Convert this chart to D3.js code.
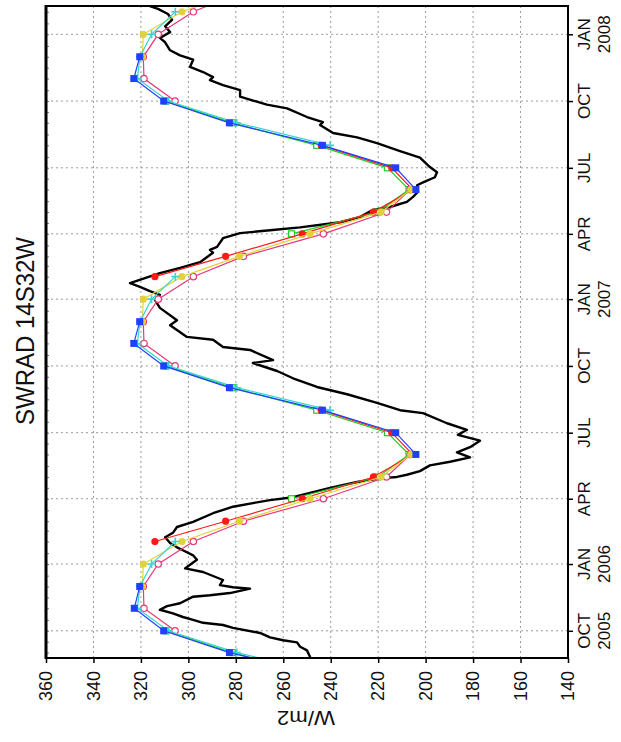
<!DOCTYPE html>
<html>
<head>
<meta charset="utf-8">
<script src="https://cdn.jsdelivr.net/npm/d3@7"></script>
<style>
  html, body { margin: 0; padding: 0; background: #fff; }
  svg { display: block; }
</style>
</head>
<body>
<svg id="chart" width="621" height="742"></svg>
<script>
// Shortwave radiation at 14S 32W: daily buoy record plus monthly climatologies.
// The figure is laid out in portrait: time runs bottom-to-top, W/m2 runs right-to-left.

const valueTicks = [360, 340, 320, 300, 280, 260, 240, 220, 200, 180, 160, 140];
const timeTicks = ["2005-10-01", "2006-01-01", "2006-04-01", "2006-07-01", "2006-10-01",
                   "2007-01-01", "2007-04-01", "2007-07-01", "2007-10-01", "2008-01-01"];
const monthLabels = ["OCT", "JAN", "APR", "JUL", "OCT", "JAN", "APR", "JUL", "OCT", "JAN"];
const yearLabels = ["2005", "2006", "", "", "", "2007", "", "", "", "2008"];

// Daily buoy SWRAD (W/m2)
const buoyDates = [
  "2005-08-24","2005-08-26","2005-09-04","2005-09-09","2005-09-15","2005-09-18","2005-09-22","2005-09-28",
  "2005-10-05","2005-10-09","2005-10-12","2005-10-16","2005-10-20","2005-10-25","2005-10-30","2005-11-04",
  "2005-11-08","2005-11-17","2005-11-19","2005-11-22","2005-11-28","2005-11-30","2005-12-03","2005-12-10",
  "2005-12-21","2005-12-26","2005-12-31","2006-01-07","2006-01-13","2006-01-20","2006-01-24","2006-01-30",
  "2006-02-07","2006-02-13","2006-02-21","2006-02-28","2006-03-12","2006-03-21","2006-03-26","2006-03-30",
  "2006-04-03","2006-04-16","2006-04-24","2006-04-29","2006-05-01","2006-05-04","2006-05-09","2006-05-17",
  "2006-05-22","2006-05-28","2006-06-04","2006-06-11","2006-06-20","2006-06-28","2006-07-05","2006-07-14",
  "2006-07-28","2006-08-01","2006-08-11","2006-08-23","2006-09-02","2006-09-14","2006-09-24","2006-10-05",
  "2006-10-09","2006-10-23","2006-10-27","2006-11-06","2006-11-10","2006-11-26","2006-12-03","2006-12-20",
  "2006-12-31","2007-01-07","2007-01-12","2007-01-18","2007-01-23","2007-01-30","2007-02-06","2007-02-13",
  "2007-02-21","2007-03-06","2007-03-10","2007-03-14","2007-03-26","2007-04-02","2007-04-06","2007-04-10",
  "2007-04-17","2007-04-24","2007-05-04","2007-05-08","2007-05-15","2007-05-22","2007-05-29","2007-06-07",
  "2007-06-11","2007-06-18","2007-06-25","2007-07-02","2007-07-15","2007-07-24","2007-08-04","2007-08-12",
  "2007-08-18","2007-08-29","2007-09-02","2007-09-09","2007-09-21","2007-09-26","2007-10-07","2007-10-16",
  "2007-10-23","2007-10-30","2007-11-03","2007-11-10","2007-11-17","2007-11-27","2007-12-03","2007-12-10",
  "2007-12-21","2007-12-27","2008-01-04","2008-01-12","2008-01-21","2008-01-29","2008-02-05","2008-02-09",
  "2008-02-12"
];
const buoyValues = [
  249.0, 248.7, 250.0, 252.9, 254.2, 260.1, 265.6, 269.8,
  281.2, 285.4, 293.8, 298.0, 302.3, 306.5, 312.0, 309.0,
  303.5, 298.0, 290.9, 282.5, 274.0, 281.2, 286.7, 285.4,
  293.8, 301.4, 299.3, 296.4, 298.0, 302.3, 304.8, 307.7,
  309.8, 306.5, 304.8, 298.0, 289.6, 281.2, 272.8, 265.6,
  255.9, 240.3, 228.9, 219.2, 212.1, 207.9, 202.4, 198.2,
  189.7, 181.3, 186.8, 181.3, 177.1, 186.4, 182.6, 191.0,
  201.1, 210.8, 220.5, 233.1, 245.8, 255.9, 262.6, 272.8,
  264.3, 274.0, 285.4, 289.6, 300.6, 307.7, 304.8, 312.0,
  314.1, 312.0, 316.2, 320.4, 324.6, 318.3, 312.0, 303.5,
  295.1, 289.6, 290.9, 287.9, 285.4, 278.2, 265.6, 252.9,
  236.1, 227.7, 222.2, 215.0, 207.9, 205.3, 203.2, 203.6,
  201.1, 196.1, 195.2, 198.2, 202.4, 210.8, 220.5, 228.9,
  239.0, 244.5, 243.3, 250.0, 258.4, 266.9, 278.2, 278.2,
  285.4, 290.9, 289.6, 293.8, 299.3, 298.0, 303.5, 307.7,
  309.8, 312.0, 307.7, 309.8, 306.9, 308.6, 312.8, 316.2,
  318.0
];

// Monthly climatology curves, one value per month start (null = not available)
const monthStarts = [
  "2005-08-01","2005-09-01","2005-10-01","2005-11-01","2005-12-01",
  "2006-01-01","2006-02-01","2006-03-01","2006-04-01","2006-05-01","2006-06-01",
  "2006-07-01","2006-08-01","2006-09-01","2006-10-01","2006-11-01","2006-12-01",
  "2007-01-01","2007-02-01","2007-03-01","2007-04-01","2007-05-01","2007-06-01",
  "2007-07-01","2007-08-01","2007-09-01","2007-10-01","2007-11-01","2007-12-01",
  "2008-01-01","2008-02-01","2008-03-01"
];
const greenValues = [245.9, 281.5, 309.5, null, null,
  null, null, null, 256.5, 220.2, 207.0, 216.1, 245.9, 281.5, 309.5, null, null,
  null, null, null, 256.5, 220.2, 207.0, 216.1, 245.9, 281.5, 309.5, null, null,
  null, null, null];
const redValues = [null, null, null, null, null,
  null, 314.1, 284.3, 252.0, 222.0, 205.5, 214.3, 244.0, null, null, null, null,
  null, 314.1, 284.3, 252.0, 222.0, 205.5, 214.3, 244.0, null, null, null, null,
  null, null, null];
const pinkValues = [null, null, 305.6, 318.7, 319.0,
  312.7, 297.9, 276.8, 243.1, 216.5, 206.5, null, null, null, 305.6, 318.7, 319.0,
  312.7, 297.9, 276.8, 243.1, 216.5, 206.5, null, null, null, 305.6, 318.7, 319.0,
  312.7, 297.9, 276.8];
const yellowValues = [null, null, null, null, 319.4,
  319.0, 302.7, 278.5, 248.7, 218.8, 206.2, null, null, null, null, null, 319.4,
  319.0, 302.7, 278.5, 248.7, 218.8, 206.2, null, null, null, null, null, 319.4,
  319.0, 302.7, 278.5];
const cyanValues = [240.3, 279.6, 308.5, 321.5, 320.4,
  315.5, 305.5, null, null, null, null, null, 240.3, 279.6, 308.5, 321.5, 320.4,
  315.5, 305.5, null, null, null, null, null, 240.3, 279.6, 308.5, 321.5, 320.4,
  315.5, 305.5, null];
const blueValues = [243.5, 282.7, 310.4, 322.8, 320.5,
  null, null, null, null, null, 204.1, 212.6, 243.5, 282.7, 310.4, 323.0, 320.5,
  null, null, null, null, null, 204.1, 212.6, 243.5, 282.7, 310.4, 323.0, 320.5,
  null, null, null];

const parse = s => new Date(s + "T00:00:00Z");

const plot = { left: 46, right: 568, top: 6, bottom: 658 };

const x = d3.scaleLinear().domain([360, 140]).range([plot.left, plot.right]);
const y = d3.scaleUtc()
  .domain([new Date(Date.UTC(2005, 7, 24, 12)), new Date(Date.UTC(2008, 1, 9))])
  .range([plot.bottom, plot.top]);

const svg = d3.select("#chart");
const FONT = "'Liberation Sans', Arial, sans-serif";

svg.append("defs").append("clipPath").attr("id", "plotClip")
  .append("rect")
  .attr("x", plot.left).attr("y", plot.top)
  .attr("width", plot.right - plot.left).attr("height", plot.bottom - plot.top);

// dotted grid
const grid = svg.append("g").attr("stroke", "#9a9a9a").attr("stroke-width", 1)
  .attr("stroke-dasharray", "2,3");
grid.selectAll("line.v").data(valueTicks.slice(1, -1)).join("line")
  .attr("x1", d => x(d)).attr("x2", d => x(d))
  .attr("y1", plot.top).attr("y2", plot.bottom);
grid.selectAll("line.h").data(timeTicks).join("line")
  .attr("x1", plot.left).attr("x2", plot.right)
  .attr("y1", d => y(parse(d))).attr("y2", d => y(parse(d)));

// half-month minor ticks along the inner side of the time edges
const minorDates = d3.utcMonths(y.domain()[0], y.domain()[1])
  .flatMap(m => [m, new Date(Date.UTC(m.getUTCFullYear(), m.getUTCMonth(), 16))])
  .filter(d => d >= y.domain()[0] && d <= y.domain()[1]);
const minorL = svg.append("g").attr("transform", `translate(${plot.left},0)`)
  .call(d3.axisLeft(y).tickValues(minorDates).tickSize(-3).tickFormat(""));
minorL.select(".domain").remove();
minorL.selectAll(".tick line").attr("stroke", "#777");

const data = svg.append("g").attr("clip-path", "url(#plotClip)");

// daily buoy record
const buoy = buoyDates.map((d, i) => ({ t: parse(d), v: buoyValues[i] }));
data.append("path")
  .datum(buoy)
  .attr("fill", "none").attr("stroke", "#000").attr("stroke-width", 2.4)
  .attr("stroke-linejoin", "round")
  .attr("d", d3.line().x(d => x(d.v)).y(d => y(d.t)));

// monthly curves
const curves = [
  { values: greenValues, color: "#22cc22", marker: "openSquare" },
  { values: redValues, color: "#ff1a1a", marker: "dot" },
  { values: pinkValues, color: "#e8387a", marker: "openCircle" },
  { values: yellowValues, color: "#e2d23a", marker: "dot" },
  { values: cyanValues, color: "#36d6d0", marker: "plus" },
  { values: blueValues, color: "#2040ff", marker: "square" }
];

const lineGen = d3.line().defined(d => d.v !== null).x(d => x(d.v)).y(d => y(d.t));

curves.forEach(c => {
  const pts = monthStarts.map((m, i) => ({ t: parse(m), v: c.values[i] }));
  const g = data.append("g");
  g.append("path").datum(pts)
    .attr("fill", "none").attr("stroke", c.color).attr("stroke-width", 1.2)
    .attr("d", lineGen);
  const valid = pts.filter(p => p.v !== null);
  const m = g.selectAll("g.m").data(valid).join("g")
    .attr("transform", p => `translate(${x(p.v)},${y(p.t)})`);
  if (c.marker === "square") {
    m.append("rect").attr("x", -3.5).attr("y", -3.5).attr("width", 7).attr("height", 7)
      .attr("fill", c.color);
  } else if (c.marker === "openSquare") {
    m.append("rect").attr("x", -3).attr("y", -3).attr("width", 6).attr("height", 6)
      .attr("fill", "#fff").attr("stroke", c.color).attr("stroke-width", 1.2);
  } else if (c.marker === "dot") {
    m.append("circle").attr("r", 3.6).attr("fill", c.color);
  } else if (c.marker === "openCircle") {
    m.append("circle").attr("r", 3.2).attr("fill", "#fff")
      .attr("stroke", c.color).attr("stroke-width", 1.2);
  } else if (c.marker === "plus") {
    m.append("path").attr("d", "M-4,0H4M0,-4V4")
      .attr("stroke", c.color).attr("stroke-width", 1.6);
  }
});

// frame
svg.append("rect")
  .attr("x", plot.left).attr("y", plot.top)
  .attr("width", plot.right - plot.left).attr("height", plot.bottom - plot.top)
  .attr("fill", "none").attr("stroke", "#000").attr("stroke-width", 2);
svg.append("line")
  .attr("x1", plot.left).attr("x2", plot.left)
  .attr("y1", plot.top - 1).attr("y2", plot.bottom + 1)
  .attr("stroke", "#000").attr("stroke-width", 3);

// value axis (bottom)
const vAxis = svg.append("g").attr("transform", `translate(0,${plot.bottom})`)
  .call(d3.axisBottom(x).tickValues(valueTicks).tickSize(5).tickFormat(""));
vAxis.select(".domain").remove();
vAxis.selectAll(".tick line").attr("stroke", "#000").attr("stroke-width", 1.5);

svg.append("g").selectAll("text").data(valueTicks).join("text")
  .attr("transform", d => `translate(${x(d)},${plot.bottom + 13}) rotate(-90)`)
  .attr("text-anchor", "end").attr("dy", "0.35em")
  .attr("font-family", FONT).attr("font-size", 18).attr("fill", "#111")
  .text(d => d);

// time axis (right)
const tAxis = svg.append("g").attr("transform", `translate(${plot.right},0)`)
  .call(d3.axisRight(y).tickValues(timeTicks.map(parse)).tickSize(5).tickFormat(""));
tAxis.select(".domain").remove();
tAxis.selectAll(".tick line").attr("stroke", "#000").attr("stroke-width", 1.5);

const tLabels = svg.append("g").attr("font-family", FONT).attr("font-size", 17).attr("fill", "#111");
tLabels.selectAll("text.mon").data(timeTicks).join("text").attr("class", "mon")
  .attr("transform", d => `translate(${plot.right + 16},${y(parse(d))}) rotate(-90)`)
  .attr("text-anchor", "middle").attr("dy", "0.35em")
  .text((d, i) => monthLabels[i]);
tLabels.selectAll("text.yr").data(timeTicks).join("text").attr("class", "yr")
  .attr("transform", d => `translate(${plot.right + 36},${y(parse(d))}) rotate(-90)`)
  .attr("text-anchor", "middle").attr("dy", "0.35em")
  .text((d, i) => yearLabels[i]);

// axis title, upside down below the value labels
svg.append("text")
  .attr("transform", `translate(306,718) rotate(180)`)
  .attr("text-anchor", "middle").attr("dy", "0.35em")
  .attr("font-family", FONT).attr("font-size", 20).attr("fill", "#111")
  .attr("textLength", 58).attr("lengthAdjust", "spacingAndGlyphs")
  .text("W/m2");

// chart title
svg.append("text")
  .attr("transform", `translate(25,331) rotate(-90)`)
  .attr("text-anchor", "middle").attr("dy", "0.36em")
  .attr("font-family", FONT).attr("font-size", 26).attr("fill", "#111")
  .attr("textLength", 188).attr("lengthAdjust", "spacingAndGlyphs")
  .text("SWRAD 14S32W");
</script>
</body>
</html>
